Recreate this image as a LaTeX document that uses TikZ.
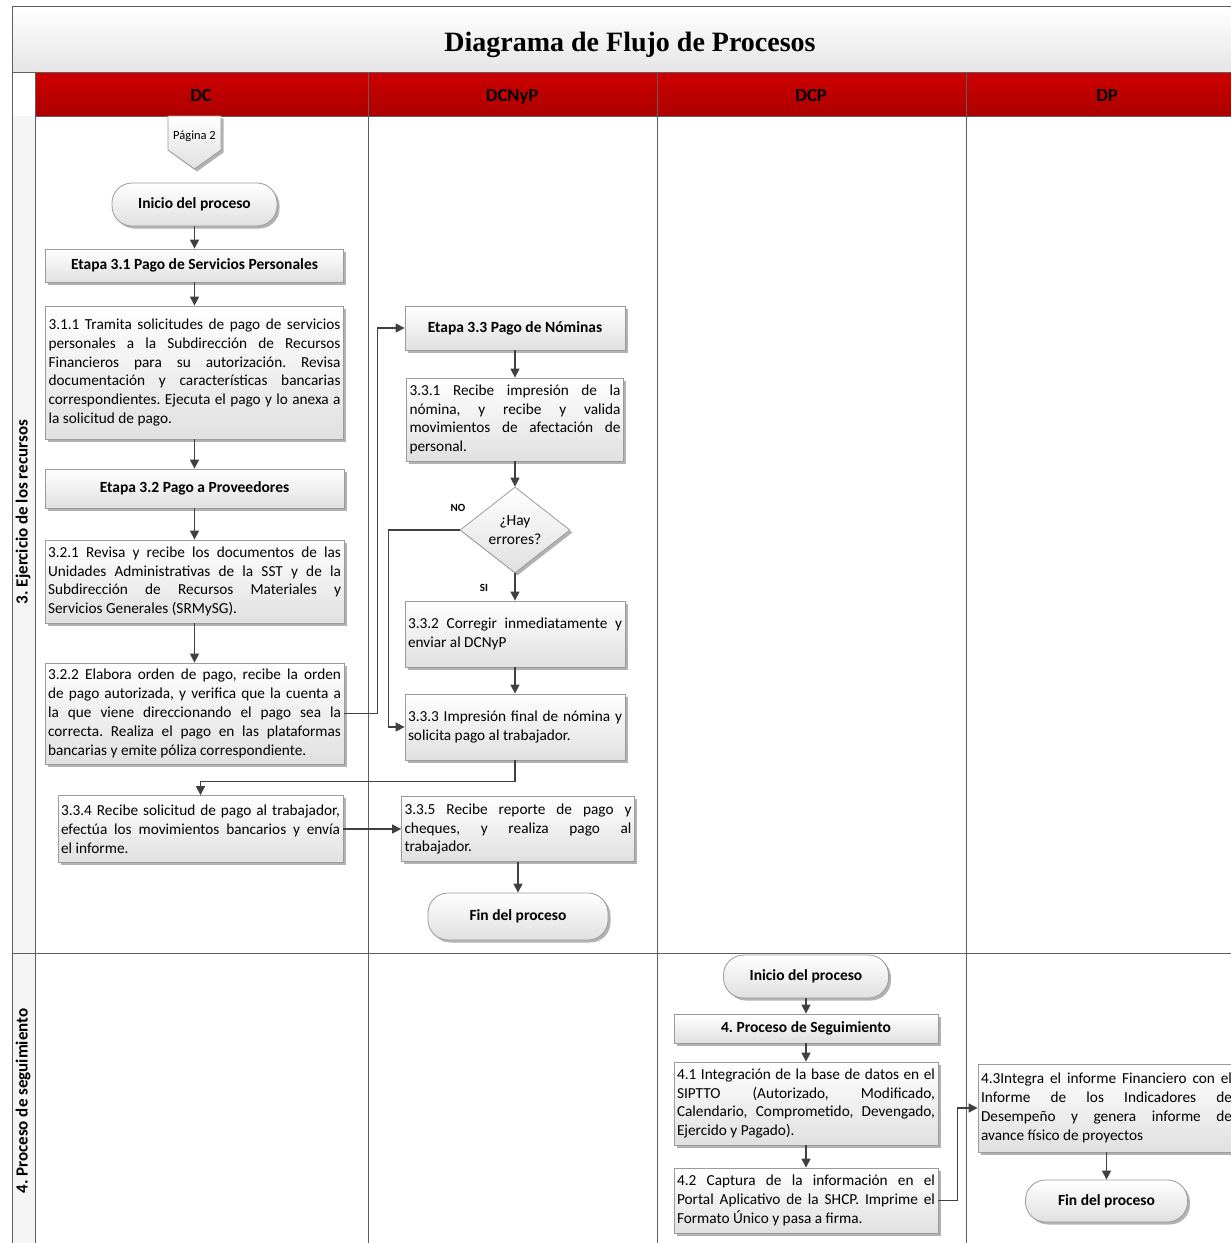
\documentclass[tikz,border=0pt]{standalone}
\usepackage{fontspec}
\setmainfont{Carlito}
\newfontfamily\titlefont{Liberation Serif}
\usepackage{tikz}
\usetikzlibrary{shapes.geometric,shadows,arrows.meta}

\hyphenpenalty=10000
\exhyphenpenalty=10000
\frenchspacing

\definecolor{hdrtop}{RGB}{206,0,0}
\definecolor{hdrbot}{RGB}{172,0,0}
\definecolor{lanegray}{RGB}{95,95,95}
\definecolor{boxline}{RGB}{155,155,155}
\definecolor{boxbot}{RGB}{224,224,224}
\definecolor{arrowgray}{RGB}{64,64,64}

\newcommand{\nl}{\linebreak}

\tikzset{
  boxbase/.style={draw=boxline, line width=0.8pt, top color=white, bottom color=boxbot,
    drop shadow={shadow xshift=2.5pt, shadow yshift=-2.5pt, opacity=0.3, fill=black}},
  proc/.style={boxbase, align=justify, inner xsep=3pt, inner ysep=2pt, text width=#1pt,
    font=\fontsize{15.3}{18.8}\selectfont},
  stage/.style={boxbase, inner sep=0pt, font=\fontsize{15.5}{18.8}\selectfont\bfseries},
  term/.style={boxbase, inner sep=0pt, rounded corners=20pt, font=\fontsize{15.5}{18.8}\selectfont\bfseries},
  decision/.style={diamond, boxbase, inner sep=0pt, aspect=1.28, align=center,
    font=\fontsize{15.5}{18.8}\selectfont},
  lanehd/.style={anchor=base, font=\fontsize{18.5}{22}\selectfont\bfseries},
  phase/.style={rotate=90, font=\fontsize{17}{20}\selectfont\bfseries},
  lbl/.style={font=\fontsize{11}{13}\selectfont\bfseries},
  lane/.style={draw=lanegray, line width=1pt},
  flow/.style={draw=arrowgray, line width=1.3pt, -{Triangle[length=9pt,width=9pt]}}
}

\begin{document}
\begin{tikzpicture}[x=1pt,y=-1pt]
\useasboundingbox (0,0) rectangle (1231,1243);
\clip (0,0) rectangle (1231,1243);

% marco y carriles
\shade[top color=white, bottom color=black!10] (12,6) rectangle (1231,72);
\shade[top color=hdrtop, bottom color=hdrbot] (35,72) rectangle (1231,116);
\fill[black!4] (12,116) rectangle (35,1243);
\draw[lane] (12,1243) -- (12,6) -- (1231,6);
\draw[lane] (12,72) -- (1231,72);
\draw[lane] (35,116) -- (1231,116);
\draw[lane] (12,953) -- (1231,953);
\draw[lane] (35,72) -- (35,1243);
\foreach \x in {368,657,966} \draw[lane] (\x,72) -- (\x,1243);

\node[anchor=base, font=\titlefont\bfseries\fontsize{28}{32}\selectfont] (title) at (630,51) {Diagrama de Flujo de Procesos};
\node[lanehd] (dc) at (201,101) {DC};
\node[lanehd] (dcnyp) at (512,101) {DCNyP};
\node[lanehd] (dcp) at (811,101) {DCP};
\node[lanehd] (dp) at (1107,101) {DP};
\node[phase] (fase3) at (23,512) {3. Ejercicio de los recursos};
\node[phase] (fase4) at (23,1101) {4. Proceso de seguimiento};

% conector de pagina
\path[boxbase] (168,116) -- (221,116) -- (221,150) -- (194.5,169) -- (168,150) -- cycle;
\node[font=\fontsize{12.5}{15}\selectfont] (pag) at (194.5,136) {Página 2};

% DC
\node[term, minimum width=165, minimum height=43] (ini1) at (194.5,204.5) {Inicio del proceso};
\node[stage, minimum width=298, minimum height=33] (e31) at (194.5,265.5) {Etapa 3.1 Pago de Servicios Personales};
\node[proc=292, minimum height=133] (p311) at (194.5,372.5) {3.1.1 Tramita solicitudes de pago de servicios\nl personales a la Subdirección de Recursos\nl Financieros para su autorización. Revisa\nl documentación y características bancarias\nl correspondientes. Ejecuta el pago y lo anexa a\nl la solicitud de pago.};
\node[stage, minimum width=299, minimum height=39] (e32) at (194.5,488.5) {Etapa 3.2 Pago a Proveedores};
\node[proc=293, minimum height=83] (p321) at (194.5,581.5) {3.2.1 Revisa y recibe los documentos de las\nl Unidades Administrativas de la SST y de la\nl Subdirección de Recursos Materiales y\nl Servicios Generales (SRMySG).};
\node[proc=293, minimum height=101] (p322) at (194.5,713.5) {3.2.2 Elabora orden de pago, recibe la orden\nl de pago autorizada, y verifica que la cuenta a\nl la que viene direccionando el pago sea la\nl correcta. Realiza el pago en las plataformas\nl bancarias y emite póliza correspondiente.};
\node[proc=279, minimum height=67] (p334) at (200.5,829) {3.3.4 Recibe solicitud de pago al trabajador,\nl efectúa los movimientos bancarios y envía\nl el informe.};

% DCNyP
\node[stage, minimum width=220, minimum height=44] (e33) at (515,328) {Etapa 3.3 Pago de Nóminas};
\node[proc=211, minimum height=83] (p331) at (515,419.5) {3.3.1 Recibe impresión de la\nl nómina, y recibe y valida\nl movimientos de afectación de\nl personal.};
\node[decision, minimum width=110, minimum height=86] (dec) at (515,530) {¿Hay\\errores?};
\node[proc=214, minimum height=66] (p332) at (515,634) {3.3.2 Corregir inmediatamente y\nl enviar al DCNyP};
\node[proc=214, minimum height=66] (p333) at (515,727) {3.3.3 Impresión final de nómina y\nl solicita pago al trabajador.};
\node[proc=227, minimum height=65] (p335) at (518,829) {3.3.5 Recibe reporte de pago y\nl cheques, y realiza pago al\nl trabajador.};
\node[term, minimum width=180, minimum height=47] (fin1) at (518,916.5) {Fin del proceso};
\node[lbl] (no) at (458,508) {NO};
\node[lbl] (si) at (484,588) {SI};

% DCP
\node[term, minimum width=165, minimum height=43] (ini2) at (806,976.5) {Inicio del proceso};
\node[stage, minimum width=264, minimum height=29] (s4) at (806,1028.5) {4. Proceso de Seguimiento};
\node[proc=258, minimum height=83] (p41) at (806,1103.5) {4.1 Integración de la base de datos en el\nl SIPTTO (Autorizado, Modificado,\nl Calendario, Comprometido, Devengado,\nl Ejercido y Pagado).};
\node[proc=258, minimum height=65] (p42) at (806,1200.5) {4.2 Captura de la información en el\nl Portal Aplicativo de la SHCP. Imprime el\nl Formato Único y pasa a firma.};

% DP
\node[proc=251, minimum height=88] (p43) at (1106.5,1108) {4.3Integra el informe Financiero con el\nl Informe de los Indicadores de\nl Desempeño y genera informe de\nl avance físico de proyectos};
\node[term, minimum width=162, minimum height=42] (fin2) at (1106.5,1201) {Fin del proceso};

% flechas
\draw[flow] (ini1) -- (e31);
\draw[flow] (e31) -- (p311);
\draw[flow] (p311) -- (e32);
\draw[flow] (e32) -- (p321);
\draw[flow] (p321) -- (p322);
\draw[flow] (p322.east) -- ++(33,0) |- (e33.west);
\draw[flow] (e33) -- (p331);
\draw[flow] (p331) -- (dec);
\draw[flow] (dec) -- (p332);
\draw[flow] (dec.west) -- ++(-71,0) |- (p333.west);
\draw[flow] (p332) -- (p333);
\draw[flow] (p333.south) -- ++(0,21) -| (p334.north);
\draw[flow] (p334) -- (p335);
\draw[flow] (p335) -- (fin1);
\draw[flow] (ini2) -- (s4);
\draw[flow] (s4) -- (p41);
\draw[flow] (p41) -- (p42);
\draw[flow] (p42.east) -- ++(19,0) |- (p43.west);
\draw[flow] (p43) -- (fin2);
\end{tikzpicture}
\end{document}
